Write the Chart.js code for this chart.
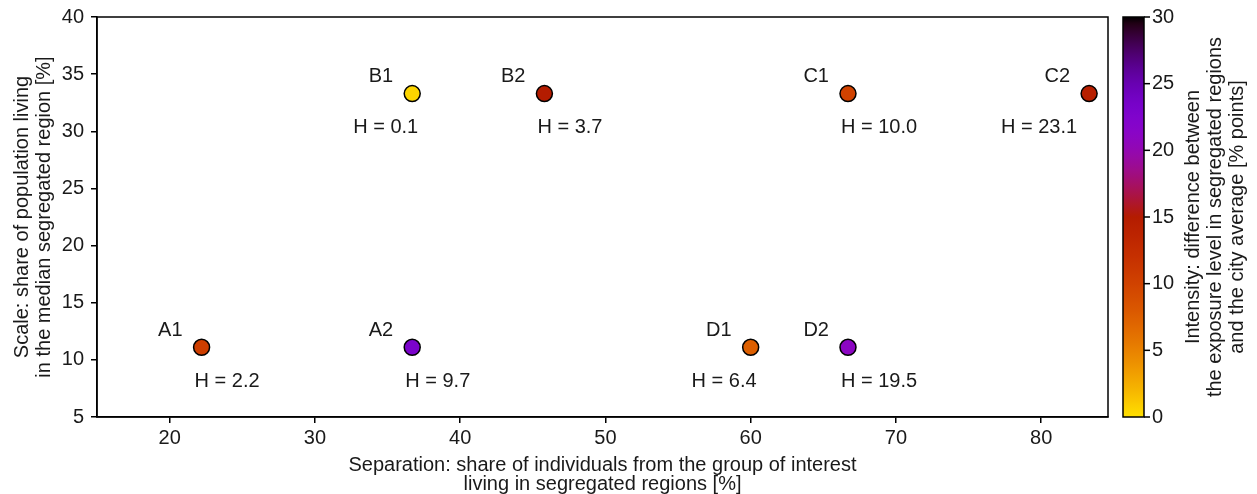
<!DOCTYPE html>
<html>
<head>
<meta charset="utf-8">
<script src="https://cdn.jsdelivr.net/npm/chart.js@4.4.1/dist/chart.umd.min.js"></script>
<style>
  body { margin: 0; background: #fff; }
  #wrap { width: 1257px; height: 494px; position: relative; }
</style>
</head>
<body>
<div id="wrap"><canvas id="chart"></canvas></div>
<script>
const names = ["A1", "A2", "B1", "B2", "C1", "C2", "D1", "D2"];
const separation = [22.2, 36.7, 36.7, 45.8, 66.7, 83.3, 60.0, 66.7];
const scaleShare = [11.1, 11.1, 33.3, 33.3, 33.3, 33.3, 11.1, 11.1];
const intensity = [10.5, 23, 0.5, 15, 10, 14.5, 7.5, 21];
const hValues = [2.2, 9.7, 0.1, 3.7, 10.0, 23.1, 6.4, 19.5];
const xTicks = [20, 30, 40, 50, 60, 70, 80];
const cbTicks = [0, 5, 10, 15, 20, 25, 30];

// which side of the dot the "H = ..." label hangs from
const hSide = ["left", "left", "right", "left", "left", "right", "right", "left"];

const FONT = '"Liberation Sans", Arial, sans-serif';
const INK = "#1a1a1a";

// gnuplot-like colormap, reversed, over 0..30 (slightly muted)
function cmap(v) {
  const t = 1 - Math.min(Math.max(v / 30, 0), 1);
  const r = Math.sqrt(t), g = 0.88 * t * t * t, b = 0.8 * Math.max(0, Math.sin(2 * Math.PI * t));
  return `rgb(${Math.round(r * 255)},${Math.round(g * 255)},${Math.round(b * 255)})`;
}

const overlay = {
  id: "overlay",
  afterDatasetsDraw(chart) {
    const { ctx, chartArea: a, scales } = chart;
    const x = scales.x, y = scales.y, cb = scales.cb;
    ctx.save();

    // point labels
    ctx.font = "20px " + FONT;
    ctx.fillStyle = INK;
    ctx.textBaseline = "middle";
    names.forEach((n, i) => {
      const px = x.getPixelForValue(separation[i]);
      const py = y.getPixelForValue(scaleShare[i]);
      ctx.textAlign = "right";
      ctx.fillText(n, px - 19, py - 17);
      const txt = "H = " + hValues[i].toFixed(1);
      if (hSide[i] === "left") {
        ctx.textAlign = "left";
        ctx.fillText(txt, px - 7, py + 34);
      } else {
        ctx.textAlign = "right";
        ctx.fillText(txt, px + (i === 5 ? -12 : 6), py + 34);
      }
    });

    // plot frame
    ctx.strokeStyle = "#000";
    ctx.lineWidth = 1.5;
    ctx.strokeRect(a.left, a.top, a.right - a.left, a.bottom - a.top);

    // colorbar
    const bx = cb.left + 15, bw = 21;
    const top = cb.getPixelForValue(30), bot = cb.getPixelForValue(0);
    const grad = ctx.createLinearGradient(0, bot, 0, top);
    for (let k = 0; k <= 60; k++) grad.addColorStop(k / 60, cmap(k / 2));
    ctx.fillStyle = grad;
    ctx.fillRect(bx, top, bw, bot - top);
    ctx.strokeRect(bx, top, bw, bot - top);
    cbTicks.forEach(v => {
      const ty = cb.getPixelForValue(v);
      ctx.beginPath();
      ctx.moveTo(bx + bw, ty);
      ctx.lineTo(bx + bw + 6, ty);
      ctx.stroke();
    });

    // colorbar title
    ctx.fillStyle = INK;
    ctx.font = "20px " + FONT;
    ctx.textAlign = "center";
    ctx.textBaseline = "middle";
    ctx.translate(1193, (top + bot) / 2);
    ctx.rotate(-Math.PI / 2);
    ["Intensity: difference between",
     "the exposure level in segregated regions",
     "and the city average [% points]"].forEach((l, k) => ctx.fillText(l, 0, k * 22));
    ctx.restore();
  }
};

new Chart(document.getElementById("chart"), {
  type: "scatter",
  data: {
    datasets: [{
      data: separation.map((v, i) => ({ x: v, y: scaleShare[i] })),
      backgroundColor: intensity.map(cmap),
      borderColor: "#000",
      borderWidth: 1.5,
      pointRadius: 8,
      pointHoverRadius: 8
    }]
  },
  options: {
    responsive: true,
    maintainAspectRatio: false,
    animation: false,
    layout: { padding: { top: 17, right: 0, left: 0, bottom: 0 } },
    plugins: { legend: { display: false }, tooltip: { enabled: false } },
    scales: {
      x: {
        type: "linear",
        min: 15,
        max: 84.6,
        afterBuildTicks: s => { s.ticks = xTicks.map(v => ({ value: v })); },
        afterFit: s => { s.height = 77; s.paddingLeft = 0; s.paddingRight = 0; },
        ticks: { autoSkip: false, includeBounds: false, color: INK, padding: 3, font: { family: FONT, size: 20 } },
        grid: { drawOnChartArea: false, color: "#000", tickLength: 6, lineWidth: 1.5 },
        border: { color: "#000", width: 1.5 },
        title: {
          display: true,
          text: ["Separation: share of individuals from the group of interest",
                 "living in segregated regions [%]"],
          color: INK,
          font: { family: FONT, size: 20, lineHeight: 0.95 },
          padding: { top: 0, bottom: 0 }
        }
      },
      y: {
        type: "linear",
        min: 5,
        max: 40,
        afterFit: s => { s.width = 97; s.paddingTop = 0; s.paddingBottom = 0; },
        ticks: { stepSize: 5, color: INK, padding: 7, font: { family: FONT, size: 20 } },
        grid: { drawOnChartArea: false, color: "#000", tickLength: 6, lineWidth: 1.5 },
        border: { color: "#000", width: 1.5 },
        title: {
          display: true,
          text: ["Scale: share of population living",
                 "in the median segregated region [%]"],
          color: INK,
          font: { family: FONT, size: 20, lineHeight: 1.1 },
          padding: { top: 11, bottom: 0 }
        }
      },
      cb: {
        type: "linear",
        position: "right",
        min: 0,
        max: 30,
        afterFit: s => { s.width = 149; s.paddingTop = 0; s.paddingBottom = 0; },
        ticks: { stepSize: 5, color: INK, padding: 44, font: { family: FONT, size: 20 } },
        grid: { drawOnChartArea: false, drawTicks: false, color: "rgba(0,0,0,0)" },
        border: { display: false }
      }
    }
  },
  plugins: [overlay]
});
</script>
</body>
</html>
